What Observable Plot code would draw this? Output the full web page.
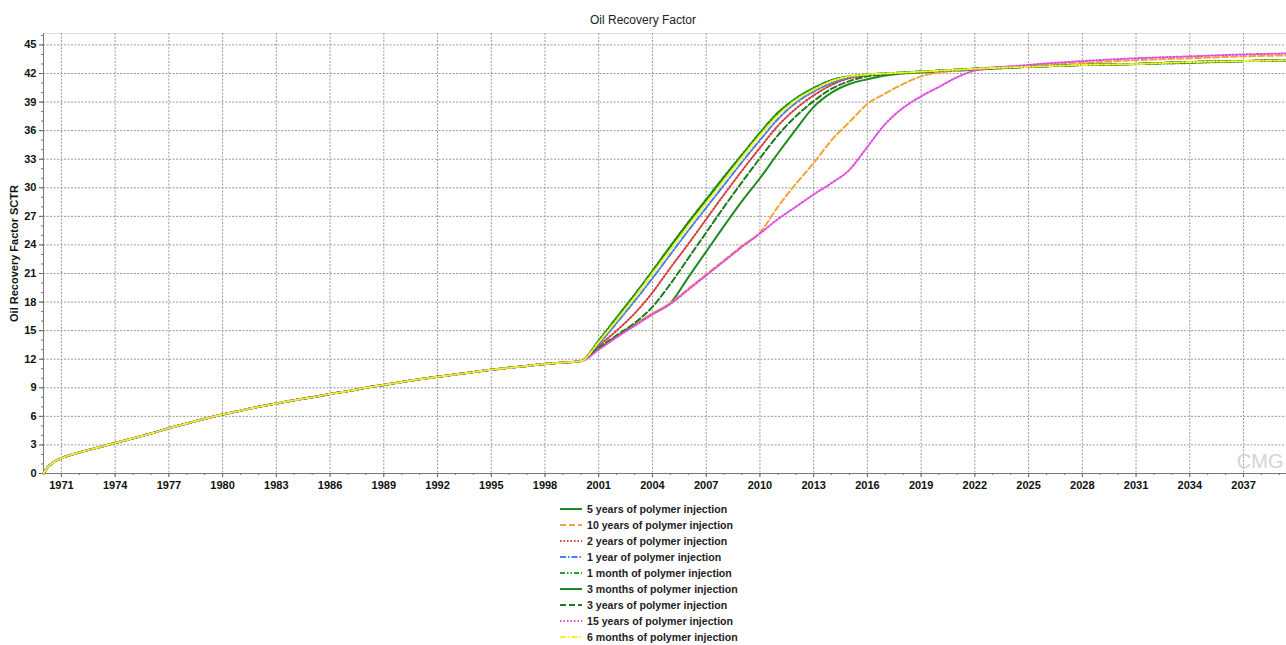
<!DOCTYPE html>
<html><head><meta charset="utf-8">
<script src="https://cdn.jsdelivr.net/npm/d3@7"></script>
<script src="https://cdn.jsdelivr.net/npm/@observablehq/plot@0.6"></script>
<style>
body{margin:0;background:#fff;font-family:"Liberation Sans",Arial,sans-serif;}
#title{box-sizing:border-box;height:28px;padding-top:11px;line-height:18px;text-align:center;font-size:12px;color:#222;}
#chart svg{display:block;}
#chart g[aria-label="y-axis label"] text{font-weight:bold;}
#legend{position:absolute;left:557px;top:501px;}
.row{display:flex;align-items:center;height:16px;font-size:10.6px;font-weight:bold;color:#222;}
.row svg{margin-right:4px;}
</style></head><body>
<div id="title">Oil Recovery Factor</div>
<div id="chart"></div>
<div id="legend"></div>
<script>
// ---- data ----
const historyYears = [1970, 1970.25, 1970.5, 1971, 1972, 1973, 1974, 1975, 1976, 1977, 1978, 1979, 1980, 1981, 1982, 1983, 1984, 1985, 1986, 1987, 1988, 1989, 1990, 1991, 1992, 1993, 1994, 1995, 1996, 1997, 1998, 1999, 2000];
const historyValues = [0, 0.7, 1.1, 1.6, 2.2, 2.7, 3.2, 3.7, 4.2, 4.75, 5.25, 5.75, 6.2, 6.6, 7.0, 7.35, 7.7, 8.0, 8.35, 8.65, 9.0, 9.3, 9.6, 9.9, 10.15, 10.4, 10.65, 10.9, 11.1, 11.3, 11.5, 11.65, 11.8];

const forecastYears = [2001, 2002, 2003, 2004, 2005, 2006, 2007, 2008, 2009, 2010, 2011, 2012, 2013, 2014, 2015, 2016, 2017, 2018, 2019, 2020, 2021, 2022, 2025, 2028, 2031, 2034, 2037, 2039.4];

const years5  = [13.1, 14.4, 15.6, 16.8, 17.9, 20.6, 23.3, 26.0, 28.6, 31.0, 33.6, 36.1, 38.5, 40.0, 40.9, 41.4, 41.8, 42.0, 42.1, 42.2, 42.3, 42.4, 42.7, 42.9, 43.0, 43.2, 43.3, 43.4];
const years10 = [13.1, 14.4, 15.6, 16.8, 17.9, 19.4, 20.9, 22.4, 23.9, 25.3, 28.0, 30.4, 32.6, 35.0, 36.9, 38.8, 39.9, 40.9, 41.7, 42.1, 42.3, 42.5, 42.8, 43.1, 43.4, 43.6, 43.8, 43.9];
const years2  = [13.4, 15.0, 16.8, 19.0, 21.6, 24.1, 26.7, 29.3, 31.8, 34.2, 36.5, 38.3, 39.7, 40.8, 41.5, 41.8, 42.0, 42.1, 42.2, 42.3, 42.4, 42.5, 42.7, 42.9, 43.0, 43.2, 43.3, 43.4];
const year1   = [13.6, 15.8, 18.1, 20.5, 23.0, 25.5, 27.9, 30.3, 32.7, 35.0, 37.2, 38.9, 40.1, 41.0, 41.6, 41.9, 42.0, 42.1, 42.2, 42.3, 42.4, 42.5, 42.7, 42.9, 43.0, 43.2, 43.3, 43.4];
const month1  = [14.0, 16.4, 18.8, 21.3, 23.9, 26.4, 28.8, 31.2, 33.5, 35.8, 37.9, 39.4, 40.5, 41.3, 41.7, 41.9, 42.0, 42.1, 42.2, 42.3, 42.4, 42.5, 42.7, 42.9, 43.0, 43.1, 43.3, 43.4];
const months3 = [13.9, 16.3, 18.7, 21.2, 23.8, 26.3, 28.7, 31.1, 33.4, 35.7, 37.8, 39.3, 40.4, 41.3, 41.7, 41.9, 42.0, 42.1, 42.2, 42.3, 42.4, 42.5, 42.7, 42.9, 43.0, 43.2, 43.3, 43.4];
const years3  = [13.2, 14.5, 15.8, 17.5, 19.9, 22.6, 25.3, 28.0, 30.6, 33.1, 35.5, 37.5, 39.1, 40.4, 41.2, 41.7, 41.9, 42.1, 42.2, 42.3, 42.4, 42.5, 42.7, 42.9, 43.0, 43.2, 43.3, 43.4];
const years15 = [13.0, 14.3, 15.5, 16.7, 17.8, 19.3, 20.8, 22.3, 23.8, 25.2, 26.7, 28.0, 29.3, 30.5, 31.9, 34.3, 36.7, 38.4, 39.6, 40.6, 41.6, 42.3, 42.9, 43.3, 43.6, 43.8, 44.0, 44.1];
const months6 = [13.8, 16.1, 18.5, 21.0, 23.5, 26.0, 28.4, 30.8, 33.2, 35.5, 37.6, 39.2, 40.3, 41.2, 41.7, 41.9, 42.0, 42.1, 42.2, 42.3, 42.4, 42.5, 42.7, 42.9, 43.0, 43.2, 43.3, 43.4];

const seriesNames = ["5 years of polymer injection", "10 years of polymer injection", "2 years of polymer injection", "1 year of polymer injection", "1 month of polymer injection", "3 months of polymer injection", "3 years of polymer injection", "15 years of polymer injection", "6 months of polymer injection"];
const seriesValues = [years5, years10, years2, year1, month1, months3, years3, years15, months6];

const xTickYears = [1971, 1974, 1977, 1980, 1983, 1986, 1989, 1992, 1995, 1998, 2001, 2004, 2007, 2010, 2013, 2016, 2019, 2022, 2025, 2028, 2031, 2034, 2037];
const yTicks = [0, 3, 6, 9, 12, 15, 18, 21, 24, 27, 30, 33, 36, 39, 42, 45];

// ---- styles ----
const styles = [
  {stroke: "#1f8a1f", dash: null},
  {stroke: "#f2a33a", dash: "6,3"},
  {stroke: "#d93b3b", dash: "1.5,2"},
  {stroke: "#4a7ee0", dash: "6,2,1.5,2"},
  {stroke: "#2e9e2e", dash: "5,2,1.5,2,1.5,2"},
  {stroke: "#1b8c1b", dash: null},
  {stroke: "#1e7a1e", dash: "6,3"},
  {stroke: "#e04ae0", dash: "1.5,2"},
  {stroke: "#f2f230", dash: "6,2,1.5,2"}
];

const table = seriesNames.map((name, i) => {
  const rows = historyYears.map((t, j) => ({t, v: historyValues[j]}));
  forecastYears.forEach((t, j) => rows.push({t, v: seriesValues[i][j]}));
  return rows;
});

const minorYears = d3.range(1970, 2040);
const minorY = d3.range(0, 47);

const lineMarks = table.map((rows, i) => Plot.line(rows, {
  x: "t", y: "v", stroke: styles[i].stroke, strokeWidth: 2,
  strokeDasharray: styles[i].dash, curve: "monotone-x"
}));

const chart = Plot.plot({
  width: 1286, height: 472,
  marginTop: 5, marginLeft: 43, marginRight: 0, marginBottom: 27,
  style: {fontFamily: "'Liberation Sans', Arial, sans-serif", fontSize: "11px", color: "#111", background: "#fff"},
  x: {domain: [1970, 2039.4]},
  y: {domain: [0, 46.2], label: "Oil Recovery Factor SCTR"},
  marks: [
    Plot.frame({stroke: "#ddd"}),
    Plot.gridX(xTickYears, {stroke: "#9a9a9a", strokeOpacity: 1, strokeDasharray: "2,1.5"}),
    Plot.gridY(yTicks, {stroke: "#9a9a9a", strokeOpacity: 1, strokeDasharray: "2,1.5"}),
    Plot.axisX(xTickYears, {tickSize: 4, tickPadding: 4, fontWeight: "bold", fontSize: 11, tickFormat: d => String(d), label: null, stroke: "#555"}),
    Plot.axisX(minorYears, {tickSize: 2, text: null, label: null, stroke: "#777"}),
    Plot.axisY(yTicks, {tickSize: 4, tickPadding: 3, fontWeight: "bold", fontSize: 11, label: "Oil Recovery Factor SCTR", labelAnchor: "center", labelArrow: "none", labelOffset: 33, stroke: "#555"}),
    Plot.axisY(minorY, {tickSize: 2, text: null, label: null, stroke: "#777"}),
    Plot.ruleX([1970], {stroke: "#777"}),
    Plot.ruleY([0], {stroke: "#777"}),
    Plot.text(["CMG"], {frameAnchor: "bottom-right", dx: -3, dy: -6, fill: "#d4d4d4", fontSize: 20, textAnchor: "end"}),
    ...lineMarks
  ]
});
document.getElementById("chart").appendChild(chart);

// ---- legend ----
const legend = document.getElementById("legend");
seriesNames.forEach((name, i) => {
  const row = document.createElement("div");
  row.className = "row";
  const ns = "http://www.w3.org/2000/svg";
  const s = document.createElementNS(ns, "svg");
  s.setAttribute("width", "26"); s.setAttribute("height", "10");
  const l = document.createElementNS(ns, "line");
  l.setAttribute("x1", "3"); l.setAttribute("x2", "25");
  l.setAttribute("y1", "5"); l.setAttribute("y2", "5");
  l.setAttribute("stroke", styles[i].stroke); l.setAttribute("stroke-width", "2");
  if (styles[i].dash) l.setAttribute("stroke-dasharray", styles[i].dash);
  s.appendChild(l);
  row.appendChild(s);
  const t = document.createElement("span");
  t.textContent = name;
  row.appendChild(t);
  legend.appendChild(row);
});
</script></body></html>
